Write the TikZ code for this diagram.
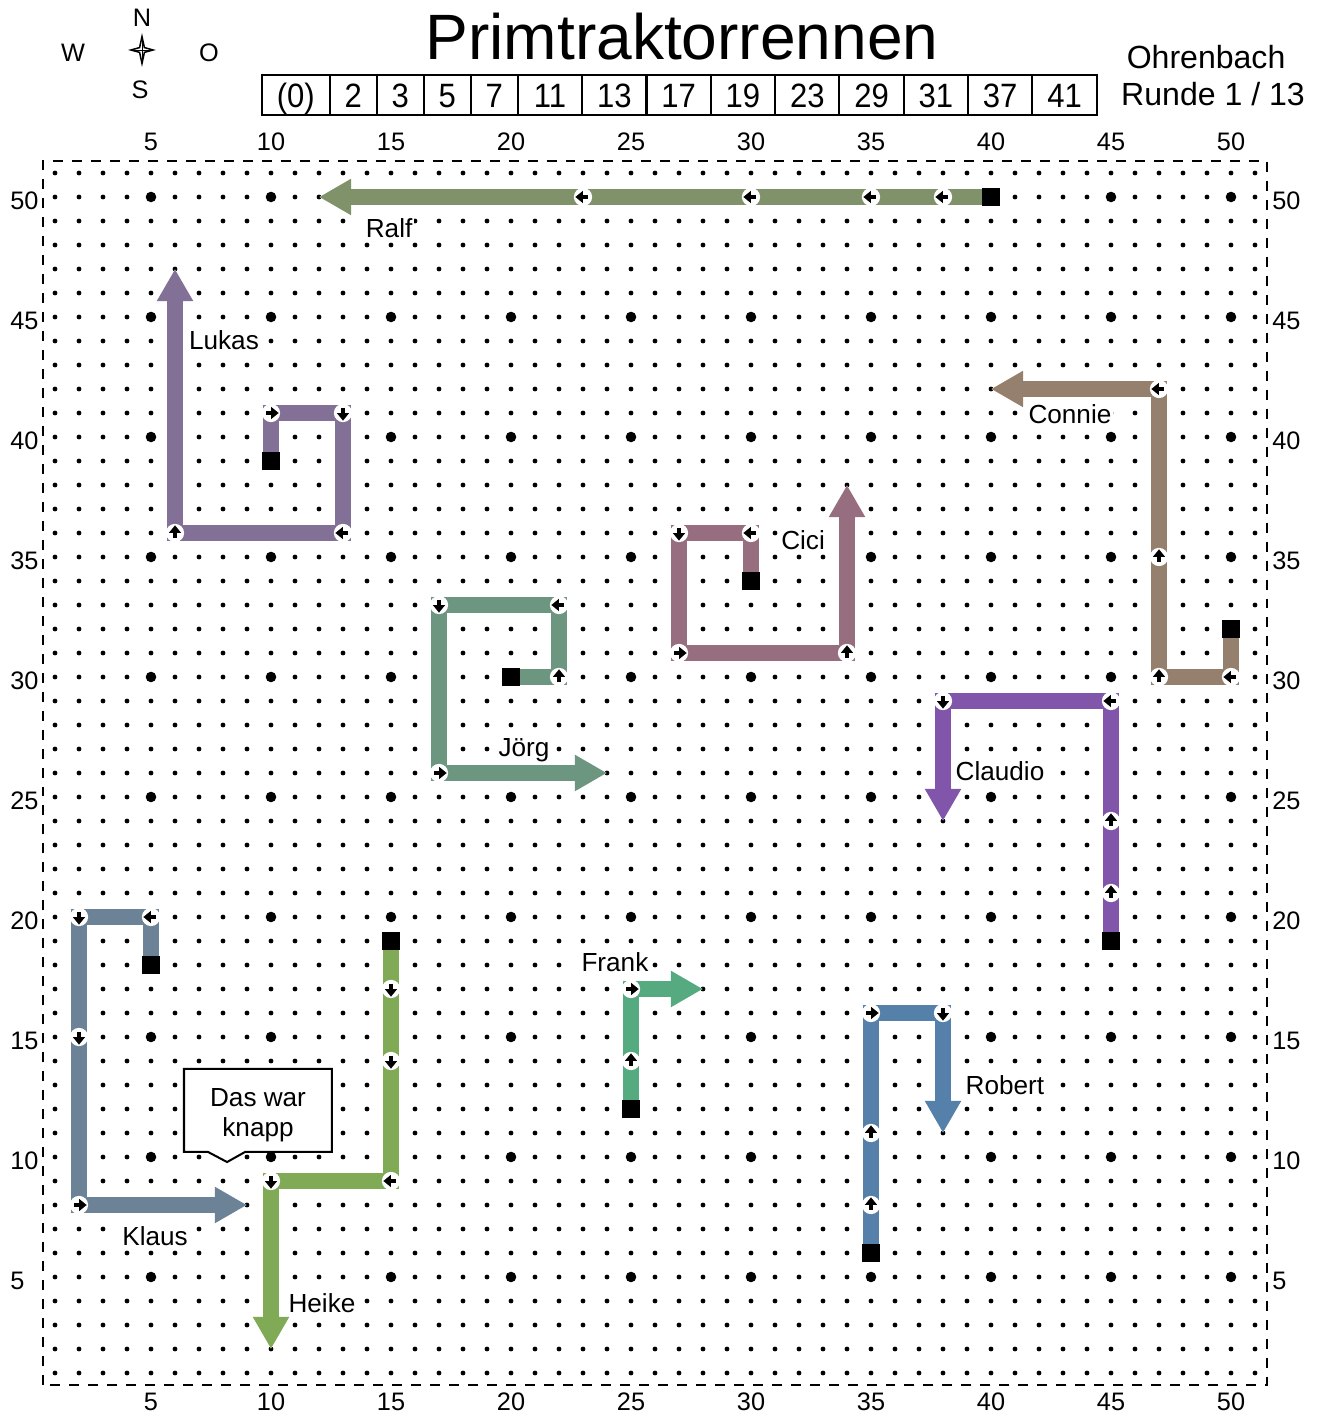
\documentclass[tikz,border=0pt]{standalone}
\usepackage{fontspec}
\setmainfont{Liberation Sans}
\newfontfamily\tabfont[FakeStretch=0.92]{Liberation Sans}
\usetikzlibrary{arrows.meta}

\definecolor{cRalf}{RGB}{127,146,105}
\definecolor{cLukas}{RGB}{130,112,150}
\definecolor{cConnie}{RGB}{148,128,108}
\definecolor{cCici}{RGB}{150,110,128}
\definecolor{cJoerg}{RGB}{108,150,128}
\definecolor{cClaudio}{RGB}{128,85,170}
\definecolor{cKlaus}{RGB}{108,130,150}
\definecolor{cHeike}{RGB}{128,170,85}
\definecolor{cFrank}{RGB}{85,170,128}
\definecolor{cRobert}{RGB}{85,128,170}

\tikzset{
  trk/.style={line width=0.333cm, line join=miter, line cap=butt,
    -{Triangle[length=0.667cm,width=0.708cm]},
    preaction={draw=white, line width=0.37cm}},
  mkarrow/.style={line width=2pt, -{Triangle[length=4.5pt,width=7pt]}},
  startsq/.style={fill=black, draw=none, rectangle, minimum size=0.37cm, inner sep=0pt},
  lbl/.style={font=\fontsize{15.5}{17.8}\selectfont, inner sep=1pt, fill=white},
  axl/.style={font=\fontsize{15}{18}\selectfont, inner sep=0pt},
  cell/.style={draw, line width=1.2pt, minimum height=0.833cm, inner sep=0pt,
    outer sep=0pt, anchor=west, font=\tabfont\fontsize{20}{24}\selectfont,
    text height=14.3pt, text depth=0pt},
  border/.style={line width=1.6pt, dash pattern=on 0.208cm off 0.1875cm},
}

\newcommand{\mrk}[3]{%
  \fill[white] (#1,#2) circle[radius=0.19cm];
  \draw[mkarrow] (#1,#2) ++(#3+180:0.105cm) -- ++(#3:0.265cm);
}

\begin{document}
\begin{tikzpicture}[x=0.5cm, y=0.5cm]
\useasboundingbox (-1.2917,-0.7917) rectangle (53.7083,58.2083);

% grid dots
\foreach \x in {1,...,51}
  \foreach \y in {1,...,51}
    \fill (\x,\y) circle[radius=0.05cm];
\foreach \x in {5,10,...,50}
  \foreach \y in {5,10,...,50}
    \fill (\x,\y) circle[radius=0.11cm];

% border
\draw[border] (0.5,0.5) rectangle (51.5,51.5);

% axis labels
\foreach \v in {5,10,...,50} {
  \node[axl] (axt\v) at (\v,52.29) {\v};
  \node[axl] (axb\v) at (\v,-0.21) {\v};
  \node[axl, anchor=west] (axl\v) at (-0.875,\v-0.15) {\v};
  \node[axl, anchor=west] (axr\v) at (51.71,\v-0.15) {\v};
}

% title
\node[font=\fontsize{38}{44}\selectfont, inner sep=0pt, anchor=base] (title) at (27.125,55.71) {Primtraktorrennen};

% compass
\node[axl] (cN) at (4.625,57.46) {N};
\node[axl] (cW) at (1.75,56.0) {W};
\node[axl] (cO) at (7.42,56.0) {O};
\node[axl] (cS) at (4.54,54.46) {S};
\begin{scope}[shift={(4.625,56.125)}]
  \draw[fill=white, line width=0.9pt, line join=miter]
    (0,0.28cm) -- (0.05cm,0.05cm) -- (0.23cm,0) -- (0.05cm,-0.05cm) --
    (0,-0.28cm) -- (-0.05cm,-0.05cm) -- (-0.23cm,0) -- (-0.05cm,0.05cm) -- cycle;
  \draw[line width=0.4pt] (0,0.26cm) -- (0,-0.26cm) (-0.21cm,0) -- (0.21cm,0);
\end{scope}

% place / round
\node[font=\fontsize{19}{22}\selectfont, inner sep=0pt] (ort) at (48.96,55.83) {Ohrenbach};
\node[font=\fontsize{19}{22}\selectfont, inner sep=0pt] (runde) at (49.25,54.29) {Runde 1 / 13};

% prime table
\node[cell, minimum width=1.41cm] (t0) at (9.625,54.25) {(0)};
\node[cell, minimum width=0.98cm] (t1) at (t0.east) {2};
\node[cell, minimum width=0.98cm] (t2) at (t1.east) {3};
\node[cell, minimum width=0.98cm] (t3) at (t2.east) {5};
\node[cell, minimum width=0.98cm] (t4) at (t3.east) {7};
\node[cell, minimum width=1.34cm] (t5) at (t4.east) {11};
\node[cell, minimum width=1.34cm] (t6) at (t5.east) {13};
\node[cell, minimum width=1.34cm] (t7) at (t6.east) {17};
\node[cell, minimum width=1.34cm] (t8) at (t7.east) {19};
\node[cell, minimum width=1.34cm] (t9) at (t8.east) {23};
\node[cell, minimum width=1.34cm] (t10) at (t9.east) {29};
\node[cell, minimum width=1.34cm] (t11) at (t10.east) {31};
\node[cell, minimum width=1.34cm] (t12) at (t11.east) {37};
\node[cell, minimum width=1.34cm] (t13) at (t12.east) {41};

% tracks
\draw[trk, draw=cRalf] (40,50) -- (38,50) -- (35,50) -- (30,50) -- (23,50) -- (12,50);
\draw[trk, draw=cLukas] (10,39) -- (10,41) -- (13,41) -- (13,36) -- (6,36) -- (6,47);
\draw[trk, draw=cConnie] (50,32) -- (50,30) -- (47,30) -- (47,35) -- (47,42) -- (40,42);
\draw[trk, draw=cCici] (30,34) -- (30,36) -- (27,36) -- (27,31) -- (34,31) -- (34,38);
\draw[trk, draw=cJoerg] (20,30) -- (22,30) -- (22,33) -- (17,33) -- (17,26) -- (24,26);
\draw[trk, draw=cClaudio] (45,19) -- (45,21) -- (45,24) -- (45,29) -- (38,29) -- (38,24);
\draw[trk, draw=cKlaus] (5,18) -- (5,20) -- (2,20) -- (2,15) -- (2,8) -- (9,8);
\draw[trk, draw=cHeike] (15,19) -- (15,17) -- (15,14) -- (15,9) -- (10,9) -- (10,2);
\draw[trk, draw=cFrank] (25,12) -- (25,14) -- (25,17) -- (28,17);
\draw[trk, draw=cRobert] (35,6) -- (35,8) -- (35,11) -- (35,16) -- (38,16) -- (38,11);

% direction markers
\mrk{38}{50}{180}\mrk{35}{50}{180}\mrk{30}{50}{180}\mrk{23}{50}{180}
\mrk{10}{41}{0}\mrk{13}{41}{-90}\mrk{13}{36}{180}\mrk{6}{36}{90}
\mrk{50}{30}{180}\mrk{47}{30}{90}\mrk{47}{35}{90}\mrk{47}{42}{180}
\mrk{30}{36}{180}\mrk{27}{36}{-90}\mrk{27}{31}{0}\mrk{34}{31}{90}
\mrk{22}{30}{90}\mrk{22}{33}{180}\mrk{17}{33}{-90}\mrk{17}{26}{0}
\mrk{45}{21}{90}\mrk{45}{24}{90}\mrk{45}{29}{180}\mrk{38}{29}{-90}
\mrk{5}{20}{180}\mrk{2}{20}{-90}\mrk{2}{15}{-90}\mrk{2}{8}{0}
\mrk{15}{17}{-90}\mrk{15}{14}{-90}\mrk{15}{9}{180}\mrk{10}{9}{-90}
\mrk{25}{14}{90}\mrk{25}{17}{0}
\mrk{35}{8}{90}\mrk{35}{11}{90}\mrk{35}{16}{0}\mrk{38}{16}{-90}

% start squares
\node[startsq] (sRalf) at (40,50) {};
\node[startsq] (sLukas) at (10,39) {};
\node[startsq] (sConnie) at (50,32) {};
\node[startsq] (sCici) at (30,34) {};
\node[startsq] (sJoerg) at (20,30) {};
\node[startsq] (sClaudio) at (45,19) {};
\node[startsq] (sKlaus) at (5,18) {};
\node[startsq] (sHeike) at (15,19) {};
\node[startsq] (sFrank) at (25,12) {};
\node[startsq] (sRobert) at (35,6) {};

% names
\node[lbl] (lRalf) at (14.92,48.71) {Ralf};
\node[lbl] (lLukas) at (8.04,44.04) {Lukas};
\node[lbl] (lConnie) at (43.29,40.96) {Connie};
\node[lbl] (lCici) at (32.17,35.71) {Cici};
\node[lbl] (lJoerg) at (20.54,26.96) {Jörg};
\node[lbl] (lClaudio) at (40.375,26.08) {Claudio};
\node[lbl] (lKlaus) at (5.17,6.71) {Klaus};
\node[lbl] (lHeike) at (12.125,3.92) {Heike};
\node[lbl] (lFrank) at (24.33,18.125) {Frank};
\node[lbl] (lRobert) at (40.58,13.0) {Robert};

% speech bubble
\draw[fill=white, line width=1.2pt, line join=miter]
  (6.375,13.67) -- (12.54,13.67) -- (12.54,10.21) -- (8.92,10.21) --
  (8.17,9.79) -- (7.375,10.21) -- (6.375,10.21) -- cycle;
\node[lbl, fill=none, align=center] (bubble) at (9.46,11.75) {Das war\\knapp};
\end{tikzpicture}
\end{document}
